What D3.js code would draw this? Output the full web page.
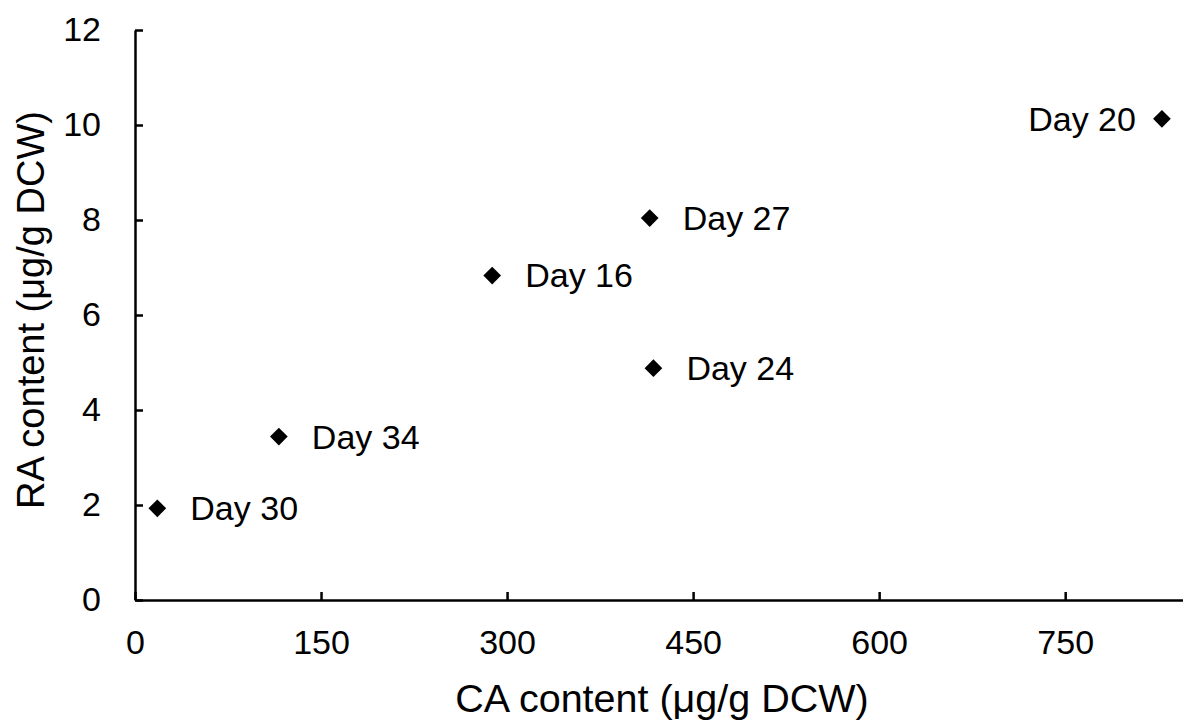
<!DOCTYPE html>
<html>
<head>
<meta charset="utf-8">
<script src="https://cdn.jsdelivr.net/npm/d3@7"></script>
<style>
html,body{margin:0;padding:0;background:#fff;}
svg{display:block;}
text{font-family:"Liberation Sans",Arial,sans-serif;fill:#000;}
</style>
</head>
<body>
<svg id="chart" width="1183" height="721"></svg>
<script>
const labels = ["Day 20","Day 27","Day 16","Day 24","Day 34","Day 30"];
const caValues = [828, 415, 288, 418, 116, 18];
const raValues = [10.13, 8.04, 6.83, 4.88, 3.44, 1.93];
const labelSide = ["left","right","right","right","right","right"];
const xTicks = [0,150,300,450,600,750];
const yTicks = [0,2,4,6,8,10,12];

const svg = d3.select("#chart");
const x = d3.scaleLinear().domain([0, 845]).range([135, 1183]);
const y = d3.scaleLinear().domain([0, 12]).range([600, 30]);
const fs = 34;

// x axis
const gx = svg.append("g").attr("transform","translate(0,"+y(0)+")")
  .call(d3.axisBottom(x).tickValues(xTicks).tickSizeInner(-8).tickSizeOuter(0).tickPadding(30).tickFormat(d3.format("d")));
gx.select(".domain").attr("stroke","#000").attr("stroke-width",2.5);
gx.selectAll(".tick line").attr("stroke","#000").attr("stroke-width",2.5);
gx.selectAll(".tick text").attr("font-size",fs).attr("font-family","Liberation Sans, Arial, sans-serif").attr("fill","#1a1a1a").attr("dy","0.71em");

// y axis
const gy = svg.append("g").attr("transform","translate("+x(0)+",0)")
  .call(d3.axisLeft(y).tickValues(yTicks).tickSizeInner(-8).tickSizeOuter(0).tickPadding(34).tickFormat(d3.format("d")));
gy.select(".domain").attr("stroke","#000").attr("stroke-width",2.5);
gy.selectAll(".tick line").attr("stroke","#000").attr("stroke-width",2.5);
gy.selectAll(".tick text").attr("font-size",fs).attr("font-family","Liberation Sans, Arial, sans-serif").attr("fill","#1a1a1a");

// axis titles
svg.append("text").attr("x",662).attr("y",712).attr("text-anchor","middle")
  .attr("font-size",39.5).attr("fill","#1a1a1a").text("CA content (μg/g DCW)");
svg.append("text").attr("transform","translate(44,310) rotate(-90)").attr("text-anchor","middle")
  .attr("font-size",38).attr("fill","#1a1a1a").text("RA content (μg/g DCW)");

// points
const data = labels.map((l,i)=>({label:l, ca:caValues[i], ra:raValues[i], side:labelSide[i]}));
const sym = d3.symbol().type(d3.symbolDiamond2).size(200);
svg.append("g").selectAll("path").data(data).join("path")
  .attr("d", sym)
  .attr("transform", d=>"translate("+x(d.ca)+","+y(d.ra)+")")
  .attr("fill","#000");

svg.append("g").selectAll("text").data(data).join("text")
  .attr("x", d=> d.side==="left" ? x(d.ca)-26 : x(d.ca)+33)
  .attr("y", d=> y(d.ra))
  .attr("dy","0.35em")
  .attr("text-anchor", d=> d.side==="left" ? "end" : "start")
  .attr("font-size", fs)
  .attr("fill","#1a1a1a")
  .text(d=>d.label);
</script>
</body>
</html>
